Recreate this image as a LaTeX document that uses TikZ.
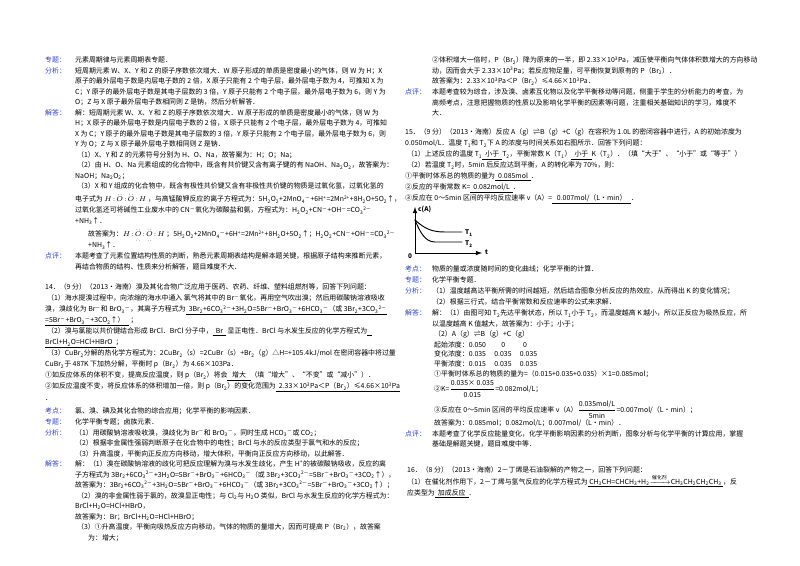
\documentclass[tikz,border=0pt]{standalone}
\usepackage{fontspec}
\usepackage{amsmath}
\setmainfont{Noto Sans CJK SC}
\definecolor{labblue}{RGB}{45,65,210}
\newcommand\dn[1]{\textsubscript{#1}}
\newcommand\up[1]{\textsuperscript{#1}}
\newcommand\blank[1]{\underline{\ \ #1\ \ }}
\newcommand\efo{$H\!:\!\overset{..}{\underset{..}{O}}\!:\!\overset{..}{\underset{..}{O}}\!:\!H$}
\tikzset{
  txt/.style={anchor=base west, inner sep=0pt, font=\fontsize{5.9}{7}\selectfont},
  lab/.style={txt, text=labblue},
  curve/.style={thick, line cap=round}
}
% one line of text: name, x, y, text
\newcommand\tl[4]{\node[txt] (#1) at (#2,#3) {#4};}
\newcommand\lb[4]{\node[lab] (#1) at (#2,#3) {#4};}

\begin{document}
\begin{tikzpicture}[x=0.03cm,y=-0.03cm]
\useasboundingbox (0,0) rectangle (800,566);

% left column, question 13
\lb{zt1}{45}{63}{专题：}
\tl{zt1t}{75}{63}{元素周期律与元素周期表专题．}
\lb{fx1}{45}{73.5}{分析：}
\tl{fx1a}{75}{73.5}{短周期元素 W、X、Y 和 Z 的原子序数依次增大．W 原子形成的单质是密度最小的气体，则 W 为 H；X}
\tl{fx1b}{75}{84}{原子的最外层电子数是内层电子数的 2 倍，X 原子只能有 2 个电子层，最外层电子数为 4，可推知 X 为}
\tl{fx1c}{75}{94.5}{C；Y 原子的最外层电子数是其电子层数的 3 倍，Y 原子只能有 2 个电子层，最外层电子数为 6，则 Y 为}
\tl{fx1d}{75}{105}{O；Z 与 X 原子最外层电子数相同则 Z 是钠，然后分析解答．}
\lb{jd1}{45}{115.5}{解答：}
\tl{jd1a}{75}{115.5}{解：短周期元素 W、X、Y 和 Z 的原子序数依次增大．W 原子形成的单质是密度最小的气体，则 W 为}
\tl{jd1b}{75}{126}{H；X 原子的最外层电子数是内层电子数的 2 倍，X 原子只能有 2 个电子层，最外层电子数为 4，可推知}
\tl{jd1c}{75}{136.5}{X 为 C；Y 原子的最外层电子数是其电子层数的 3 倍，Y 原子只能有 2 个电子层，最外层电子数为 6，则}
\tl{jd1d}{75}{147}{Y 为 O；Z 与 X 原子最外层电子数相同则 Z 是钠．}
\tl{jd1e}{77}{157.5}{（1）X、Y 和 Z 的元素符号分别为 H、O、Na，故答案为：H；O；Na；}
\tl{jd1f}{77}{168}{（2）由 H、O、Na 元素组成的化合物中，既含有共价键又含有离子键的有 NaOH、Na\dn{2}O\dn{2}，故答案为：}
\tl{jd1g}{75}{178.5}{NaOH；Na\dn{2}O\dn{2}；}
\tl{jd1h}{77}{189}{（3）X 和 Y 组成的化合物中，既含有极性共价键又含有非极性共价键的物质是过氧化氢，过氧化氢的}
\tl{jd1i}{75}{202}{电子式为 \efo\ ，与高锰酸钾反应的离子方程式为：5H\dn{2}O\dn{2}+2MnO\dn{4}\up{－}+6H\up{+}=2Mn\up{2+}+8H\dn{2}O+5O\dn{2}↑，}
\tl{jd1j}{75}{213}{过氧化氢还可将碱性工业废水中的 CN\up{－}氧化为碳酸盐和氨，方程式为：H\dn{2}O\dn{2}+CN\up{－}+OH\up{－}=CO\dn{3}\up{2－}}
\tl{jd1k}{75}{223.5}{+NH\dn{3}↑．}
\tl{jd1l}{88}{237}{故答案为：\efo\ ；5H\dn{2}O\dn{2}+2MnO\dn{4}\up{－}+6H\up{+}=2Mn\up{2+}+8H\dn{2}O+5O\dn{2}↑；H\dn{2}O\dn{2}+CN\up{－}+OH\up{－}=CO\dn{3}\up{2－}}
\tl{jd1m}{88}{248}{+NH\dn{3}↑．}
\lb{dp1}{45}{259}{点评：}
\tl{dp1a}{75}{259}{本题考查了元素位置结构性质的判断，熟悉元素周期表结构是解本题关键，根据原子结构来推断元素，}
\tl{dp1b}{75}{269.5}{再结合物质的结构、性质来分析解答，题目难度不大．}

% left column, question 14
\tl{q14}{45}{290}{14．（9 分）（2013•海南）溴及其化合物广泛应用于医药、农药、纤维、塑料组燃剂等，回答下列问题：}
\tl{q14a}{47}{301}{（1）海水提溴过程中，向浓缩的海水中通入 氯气将其中的 Br\up{－}氧化，再用空气吹出溴；然后用碳酸钠溶液吸收}
\tl{q14b}{45}{312}{溴，溴歧化为 Br\up{－}和 BrO\dn{3}\up{－}，其离子方程式为\underline{\ \ 3Br\dn{2}+6CO\dn{3}\up{2－}+3H\dn{2}O=5Br\up{－}+BrO\dn{3}\up{－}+6HCO\dn{3}\up{－}（或 3Br\dn{2}+3CO\dn{3}\up{2－}}}
\tl{q14c}{45}{323}{\underline{=5Br\up{－}+BrO\dn{3}\up{－}+3CO\dn{2}↑）\ \ \ }\ ；}
\tl{q14d}{47}{334}{（2）溴与氯能以共价键结合形成 BrCl．BrCl 分子中，\blank{Br} 显正电性．BrCl 与水发生反应的化学方程式为\underline{\ \ \ }}
\tl{q14e}{45}{345}{\underline{BrCl+H\dn{2}O=HCl+HBrO\ \ }；}
\tl{q14f}{47}{356}{（3）CuBr\dn{2}分解的热化学方程式为：2CuBr\dn{2}（s）=2CuBr（s）+Br\dn{2}（g）△H=+105.4kJ/mol 在密闭容器中将过量}
\tl{q14g}{45}{367}{CuBr\dn{2}于 487K 下加热分解，平衡时 p（Br\dn{2}）为 4.66×103Pa．}
\tl{q14h}{45}{378}{①如反应体系的体积不变，提高反应温度，则 p（Br\dn{2}）将会\blank{\ 增大\ }（填“增大”、“不变”或“减小”）．}
\tl{q14i}{45}{389}{②如反应温度不变，将反应体系的体积增加一倍，则 p（Br\dn{2}）的变化范围为\underline{\ \ 2.33×10\up{3}Pa＜P（Br\dn{2}）≤4.66×10\up{3}Pa}}
\tl{q14j}{45}{400}{．}
\lb{kd2}{45}{413}{考点：}
\tl{kd2t}{75}{413}{氯、溴、碘及其化合物的综合应用；化学平衡的影响因素．}
\lb{zt2}{45}{424}{专题：}
\tl{zt2t}{75}{424}{化学平衡专题；卤族元素．}
\lb{fx2}{45}{435}{分析：}
\tl{fx2a}{75}{435}{（1）用碳酸钠溶液吸收溴，溴歧化为 Br\up{－}和 BrO\dn{3}\up{－}，同时生成 HCO\dn{3}\up{－}或 CO\dn{2}；}
\tl{fx2b}{75}{445.5}{（2）根据非金属性强弱判断原子在化合物中的电性；BrCl 与水的反应类型于氯气和水的反应；}
\tl{fx2c}{75}{456}{（3）升高温度，平衡向正反应方向移动，增大体积，平衡向正反应方向移动，以此解答．}
\lb{jd2}{45}{466.5}{解答：}
\tl{jd2a}{75}{466.5}{解：（1）溴在碳酸钠溶液的歧化可把反应理解为溴与水发生歧化，产生 H\up{+}的被碳酸钠吸收，反应的离}
\tl{jd2b}{75}{477}{子方程式为 3Br\dn{2}+6CO\dn{3}\up{2－}+3H\dn{2}O=5Br\up{－}+BrO\dn{3}\up{－}+6HCO\dn{3}\up{－}（或 3Br\dn{2}+3CO\dn{3}\up{2－}=5Br\up{－}+BrO\dn{3}\up{－}+3CO\dn{2}↑），}
\tl{jd2c}{75}{487.5}{故答案为：3Br\dn{2}+6CO\dn{3}\up{2－}+3H\dn{2}O=5Br\up{－}+BrO\dn{3}\up{－}+6HCO\dn{3}\up{－}（或 3Br\dn{2}+3CO\dn{3}\up{2－}=5Br\up{－}+BrO\dn{3}\up{－}+3CO\dn{2}↑）；}
\tl{jd2d}{77}{498}{（2）溴的非金属性弱于氯的，故溴显正电性；与 Cl\dn{2}与 H\dn{2}O 类似，BrCl 与水发生反应的化学方程式为：}
\tl{jd2e}{75}{508.5}{BrCl+H\dn{2}O=HCl+HBrO，}
\tl{jd2f}{75}{519}{故答案为：Br；BrCl+H\dn{2}O=HCl+HBrO；}
\tl{jd2g}{77}{529.5}{（3）①升高温度，平衡向吸热反应方向移动，气体的物质的量增大，因而可提高 P（Br\dn{2}），故答案}
\tl{jd2h}{88}{540}{为：增大；}

% right column
\tl{r1}{432}{63}{②体积增大一倍时，P（Br\dn{2}）降为原来的一半，即 2.33×10\up{3}Pa，减压使平衡向气体体积数增大的方向移动}
\tl{r2}{432}{73.5}{动，因而会大于 2.33×10\up{3}Pa；若反应物足量，可平衡恢复到原有的 P（Br\dn{2}）．}
\tl{r3}{432}{84}{故答案为：2.33×10\up{3}Pa＜P（Br\dn{2}）≤4.66×10\up{3}Pa．}
\lb{dp2}{405}{95}{点评：}
\tl{dp2a}{432}{95}{本题考查较为综合，涉及溴、卤素互化物以及化学平衡移动等问题，侧重于学生的分析能力的考查，为}
\tl{dp2b}{432}{105.5}{高频考点，注意把握物质的性质以及影响化学平衡的因素等问题，注重相关基础知识的学习，难度不}
\tl{dp2c}{432}{116}{大．}

% question 15
\tl{q15}{405}{135}{15．（9 分）（2013•海南）反应 A（g）⇌B（g）+C（g）在容积为 1.0L 的密闭容器中进行，A 的初始浓度为}
\tl{q15a}{405}{146}{0.050mol/L．温度 T\dn{1}和 T\dn{2}下 A 的浓度与时间关系如右图所示．回答下列问题：}
\tl{q15b}{407}{157}{（1）上述反应的温度 T\dn{1}\blank{小于}T\dn{2}，平衡常数 K（T\dn{1}）\blank{小于}K（T\dn{2}）．（填“大于”、“小于”或“等于”）}
\tl{q15c}{407}{168}{（2）若温度 T\dn{2}时，5min 后反应达到平衡，A 的转化率为 70\%，则：}
\tl{q15d}{405}{179}{①平衡时体系总的物质的量为\blank{0.085mol}．}
\tl{q15e}{405}{190}{②反应的平衡常数 K=\blank{0.082mol/L}．}
\tl{q15f}{405}{201}{③反应在 0～5min 区间的平均反应速率 v（A）=\blank{\ 0.007mol/（L•min）\ }．}

% graph c(A) vs t
\coordinate (o) at (415,253);
\coordinate (ytop) at (415,207);
\coordinate (xend) at (482,253);
\draw[thick,-latex] (o) -- (ytop);
\draw[thick,-latex] (o) -- (xend);
\node[txt, font=\fontsize{5.5}{6}\bfseries\itshape] (cA) at (418,212) {c(A)};
\node[txt, font=\fontsize{5.5}{6}\bfseries] (zero) at (408,259) {0};
\node[txt, font=\fontsize{5.5}{6}\bfseries\itshape] (tt) at (485,255) {t};
\draw[curve] (415,220) .. controls (425,229) and (432,232) .. (445,232) -- (462,232);
\draw[curve] (415,220) .. controls (420,232) and (425,242) .. (435,242) -- (462,242);
\node[txt, font=\fontsize{5.5}{6}\bfseries\itshape] (T1) at (465,235) {T\dn{1}};
\node[txt, font=\fontsize{5.5}{6}\bfseries\itshape] (T2) at (465,246) {T\dn{2}};

\lb{kd3}{405}{272}{考点：}
\tl{kd3t}{432}{272}{物质的量或浓度随时间的变化曲线；化学平衡的计算．}
\lb{zt3}{405}{283}{专题：}
\tl{zt3t}{432}{283}{化学平衡专题．}
\lb{fx3}{405}{294}{分析：}
\tl{fx3a}{432}{294}{（1）温度越高达平衡所需的时间越短，然后结合图象分析反应的热效应，从而得出 K 的变化情况；}
\tl{fx3b}{432}{305}{（2）根据三行式，结合平衡常数和反应速率的公式来求解．}
\lb{jd3}{405}{316}{解答：}
\tl{jd3a}{432}{316}{解：（1）由图可知 T\dn{2}先达平衡状态，所以 T\dn{1}小于 T\dn{2}，而温度越高 K 越小，所以正反应为吸热反应，所}
\tl{jd3b}{432}{327}{以温度越高 K 值越大，故答案为：小于；小于；}
\tl{jd3c}{434}{337}{（2）A（g）⇌B（g）+C（g）}
\tl{jd3d}{434}{347}{起始浓度：0.050\hspace{2.2em}0\hspace{2.6em}0}
\tl{jd3e}{434}{356.5}{变化浓度：0.035\hspace{1.2em}0.035\hspace{1.2em}0.035}
\tl{jd3f}{434}{366}{平衡浓度：0.015\hspace{1.2em}0.035\hspace{1.2em}0.035}
\tl{jd3g}{434}{376.5}{①平衡时体系总的物质的量为=（0.015+0.035+0.035）×1=0.085mol；}
\tl{jd3h}{434}{391}{②K=$\dfrac{\text{0.035× 0.035}}{\text{0.015}}$=0.082mol/L；}
\tl{jd3i}{434}{412}{③反应在 0～5min 区间的平均反应速率 v（A）$\dfrac{\text{0.035mol/L}}{\text{5min}}$=0.007mol/（L•min）；}
\tl{jd3j}{434}{425}{故答案为：0.085mol；0.082mol/L；0.007mol/（L•min）．}
\lb{dp3}{405}{436}{点评：}
\tl{dp3a}{432}{436}{本题考查了化学反应能量变化，化学平衡影响因素的分析判断，图象分析与化学平衡的计算应用，掌握}
\tl{dp3b}{432}{446.5}{基础是解题关键，题目难度中等．}

% question 16
\tl{q16}{407}{472}{16．（8 分）（2013•海南）2－丁烯是石油裂解的产物之一，回答下列问题：}
\tl{q16a}{407}{484}{（1）在催化剂作用下，2－丁烯与氢气反应的化学方程式为\underline{\ CH\dn{3}CH=CHCH\dn{3}+H\dn{2}$\xrightarrow{\text{催化剂}}$CH\dn{3}CH\dn{2}CH\dn{2}CH\dn{3}\ }，反}
\tl{q16b}{407}{495}{应类型为\blank{加成反应}．}
\end{tikzpicture}
\end{document}
